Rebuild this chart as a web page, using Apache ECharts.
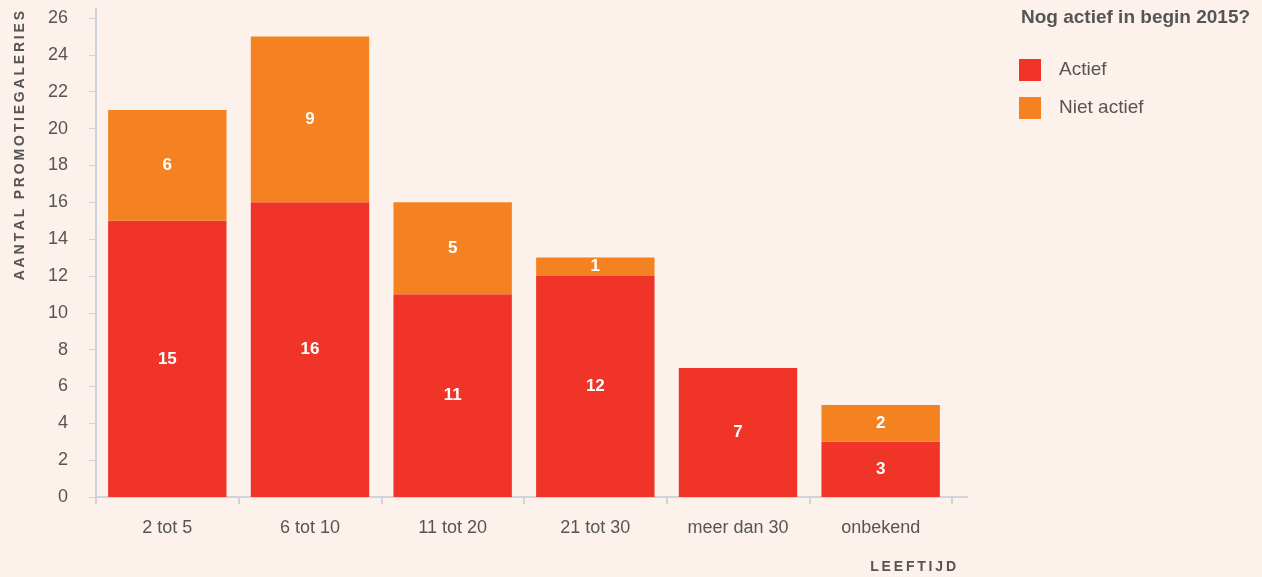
<!DOCTYPE html>
<html><head><meta charset="utf-8">
<script src="https://cdn.jsdelivr.net/npm/echarts@6/dist/echarts.min.js"></script>
<style>html,body{margin:0;padding:0;background:#fdf1ec;}#c{width:1262px;height:577px;}</style>
</head><body><div id="c"></div>
<script>
const categories = ['2 tot 5', '6 tot 10', '11 tot 20', '21 tot 30', 'meer dan 30', 'onbekend'];
const actief = [15, 16, 11, 12, 7, 3];
const nietActief = [6, 9, 5, 1, 0, 2];
const seriesNames = ['Actief', 'Niet actief'];
const legendTitle = 'Nog actief in begin 2015?';
const yName = 'AANTAL PROMOTIEGALERIES';
const xName = 'LEEFTIJD';

function spaced(s){ return s.split('').join('\u2009'); }
const font = 'Liberation Sans, Arial, sans-serif';
const axisColor = '#cfd4dc';
const lbl = {show:true, position:'inside', color:'#fff', fontWeight:'bold', fontSize:17, fontFamily:font,
  formatter: p => p.value ? p.value : ''};

const chart = echarts.init(document.getElementById('c'));
chart.setOption({
  backgroundColor:'#fdf1ec',
  animation:false,
  textStyle:{fontFamily:font},
  grid:{left:96, right:310, top:18, bottom:80, containLabel:false},
  legend:{
    orient:'vertical', left:1014, top:54, itemWidth:22, itemHeight:22, itemGap:16,
    icon:'rect',
    textStyle:{fontSize:19, color:'#555', fontFamily:font, padding:[0,0,0,13]},
    data:seriesNames
  },
  graphic:[
    {type:'text', x:1021, y:18, style:{text:legendTitle, font:'bold 19px '+font, fill:'#555', verticalAlign:'middle'}},
    {type:'text', x:956, y:567, style:{text:spaced(xName), font:'bold 14px '+font, fill:'#555', align:'right', verticalAlign:'middle'}},
    {type:'text', x:20, y:11, rotation:Math.PI/2, style:{text:spaced(yName), font:'bold 14px '+font, fill:'#555', align:'right', verticalAlign:'middle'}},
    {type:'line', shape:{x1:96, y1:8, x2:96, y2:19}, style:{stroke:axisColor, lineWidth:2}},
    {type:'line', shape:{x1:952, y1:497, x2:968, y2:497}, style:{stroke:axisColor, lineWidth:2}}
  ],
  xAxis:{
    type:'category', data:categories,
    axisLine:{lineStyle:{color:axisColor, width:2}},
    axisTick:{show:true, length:7, lineStyle:{color:axisColor, width:2}},
    axisLabel:{fontSize:18, color:'#555', margin:22, fontFamily:font}
  },
  yAxis:{
    type:'value', min:0, max:26, interval:2,
    axisLine:{show:true, lineStyle:{color:axisColor, width:2}},
    axisTick:{show:true, length:7, lineStyle:{color:axisColor, width:1}},
    axisLabel:{fontSize:18, color:'#555', margin:28, fontFamily:font},
    splitLine:{show:false}
  },
  series:[
    {name:seriesNames[0], type:'bar', stack:'a', data:actief, barCategoryGap:'17%', itemStyle:{color:'#f03427'}, label:lbl},
    {name:seriesNames[1], type:'bar', stack:'a', data:nietActief, itemStyle:{color:'#f58220'}, label:lbl}
  ]
});
</script></body></html>
